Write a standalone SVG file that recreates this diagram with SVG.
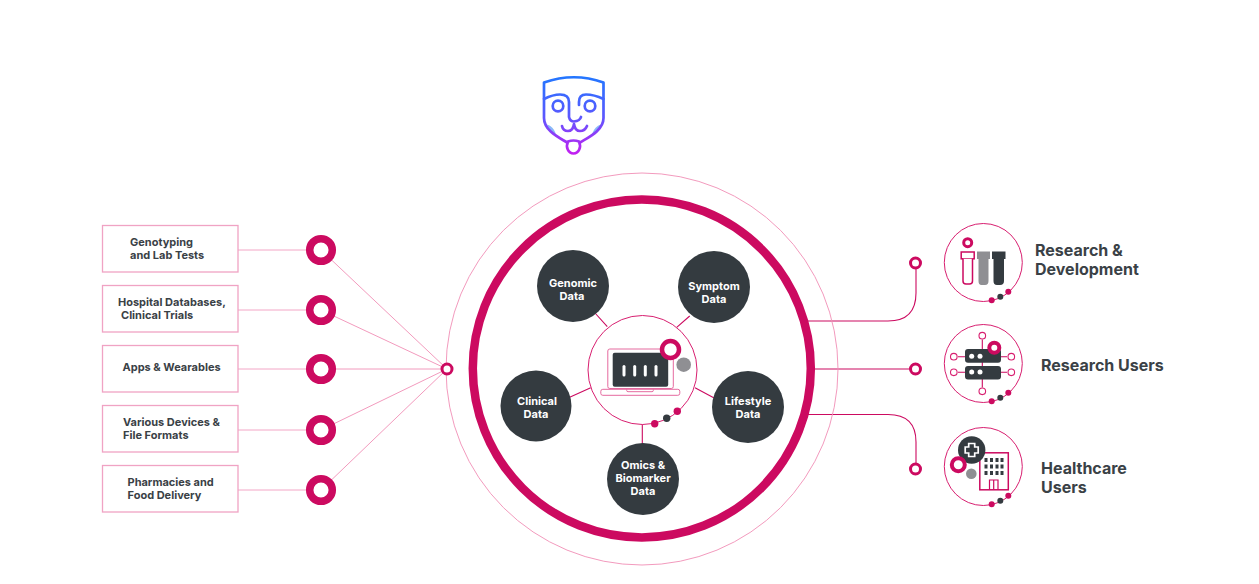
<svg xmlns="http://www.w3.org/2000/svg" width="1259" height="584" viewBox="0 0 1259 584">
<style>
text{font-family:Inter,"Liberation Sans",sans-serif;font-weight:700}
.lbl{font-size:11px;fill:#3a4146}
.nt{font-size:11px;fill:#fff;text-anchor:middle}
.rt{font-size:16px;fill:#3a4146}
.box{fill:#fff;stroke:#f0a3c4;stroke-width:1.3}
.thin{fill:none;stroke:#f08fb6;stroke-width:.9}
.lt{fill:none;stroke:#f3a6c6;stroke-width:1}
.mg{fill:none;stroke:#cc0a60;stroke-width:1.1}
.ring{fill:#fff;stroke:#cc0a60}
.dark{fill:#343b40}
.grey{fill:#8f8f93}
.pk{fill:#cc0a60}
.node{fill:#343b40}
.ic{fill:#fff;stroke:#d81f70;stroke-width:1}
.f{fill:none;stroke:url(#lg);stroke-width:2.7;stroke-linecap:round;stroke-linejoin:round}
</style>
<defs>
<linearGradient id="lg" gradientUnits="userSpaceOnUse" x1="574" y1="76" x2="574" y2="156"><stop offset="0" stop-color="#2277ff"/><stop offset=".5" stop-color="#5a58ff"/><stop offset="1" stop-color="#c81cf0"/></linearGradient>
</defs>
<g id="connectors">
<path class="lt" d="M238 250H321M238 310H321M238 369H321M238 430H321M238 490H321"/>
<path class="thin" d="M321 250L447 369M321 310L447 369M321 369H447M321 430L447 369M321 490L447 369"/>
<path class="mg" d="M808 321H888Q916 321 916 293V263M812 369H916M808 414.500H888Q916 414.500 916 442V469"/>
<path class="mg" d="M595 313L607.300 326.700M689.700 316L676.700 327.300M568 398L590.700 387.700M695 387.700L716 399M642.300 424V445"/>
</g>
<g id="face">
<path d="M547.300 124.500Q553 126 556 134Q549 131 547.300 124.500ZM600.700 124.500Q595 126 592 134Q599 131 600.700 124.500Z" fill="#8ab8f8"/>
<g class="f">
<path d="M544 82.500Q574 72 603.500 82.500V118C603.500 131 587 138 580 142.500M544 82.500V118C544 131 560 138 567 142.500"/>
<path d="M544 99Q553 94.500 560 94.500Q569 94.500 569 102V117Q570 121.500 574 121.500Q580 121 581 117"/>
<path d="M603.500 99Q594 94.500 586 94.500Q579 94.500 579 102V105"/>
<circle cx="558" cy="106" r="5.300"/><circle cx="590" cy="106" r="5.300"/>
<path d="M562 126Q563 131 568 131Q573 131 574 124Q575 131 580 131Q585 131 587 126"/>
<path d="M568 141.500C565.500 147 568 153.500 573.500 153.500C579 153.500 581.500 147 579 141.500Q573.500 139.500 568 141.500Z"/>
</g>
</g>
<g id="main-circle">
<circle cx="642" cy="369" r="196" class="thin"/>
<circle cx="641.800" cy="368.400" r="169" fill="none" stroke="#cc0a60" stroke-width="8.500"/>
</g>
<g id="hub-left"><circle cx="447" cy="369" r="5" class="ring" stroke-width="3"/></g>
<g id="box1"><rect class="box" x="102.500" y="225.500" width="135.500" height="46.500"/><text class="lbl" x="130" y="245.500">Genotyping</text><text class="lbl" x="130" y="258.500">and Lab Tests</text><circle cx="321" cy="250" r="11.300" class="ring" stroke-width="7.500"/></g>
<g id="box2"><rect class="box" x="102.500" y="285.500" width="135.500" height="46.500"/><text class="lbl" x="118" y="305.500">Hospital Databases,</text><text class="lbl" x="121" y="318.500">Clinical Trials</text><circle cx="321" cy="310" r="11.300" class="ring" stroke-width="7.500"/></g>
<g id="box3"><rect class="box" x="102.500" y="345.500" width="135.500" height="46.500"/><text class="lbl" x="122.500" y="370.500">Apps &amp; Wearables</text><circle cx="321" cy="369" r="11.300" class="ring" stroke-width="7.500"/></g>
<g id="box4"><rect class="box" x="102.500" y="405.500" width="135.500" height="46.500"/><text class="lbl" x="123" y="425.500">Various Devices &amp;</text><text class="lbl" x="123" y="438.500">File Formats</text><circle cx="321" cy="430" r="11.300" class="ring" stroke-width="7.500"/></g>
<g id="box5"><rect class="box" x="102.500" y="465.500" width="135.500" height="46.500"/><text class="lbl" x="127.500" y="485.500">Pharmacies and</text><text class="lbl" x="127.500" y="498.500">Food Delivery</text><circle cx="321" cy="490" r="11.300" class="ring" stroke-width="7.500"/></g>
<g id="genomic"><circle class="node" cx="573" cy="286" r="36"/><text class="nt" x="573" y="287">Genomic</text><text class="nt" x="572" y="300">Data</text></g>
<g id="symptom"><circle class="node" cx="714" cy="287" r="36"/><text class="nt" x="714" y="290">Symptom</text><text class="nt" x="714" y="303">Data</text></g>
<g id="clinical"><circle class="node" cx="536" cy="406" r="35.500"/><text class="nt" x="537" y="405">Clinical</text><text class="nt" x="536" y="418">Data</text></g>
<g id="lifestyle"><circle class="node" cx="748" cy="407" r="36"/><text class="nt" x="748" y="405">Lifestyle</text><text class="nt" x="748" y="418">Data</text></g>
<g id="omics"><circle class="node" cx="643" cy="479" r="36"/><text class="nt" x="643" y="469">Omics &amp;</text><text class="nt" x="643" y="482">Biomarker</text><text class="nt" x="643" y="495">Data</text></g>
<g id="hub">
<circle cx="642.500" cy="370" r="54.500" fill="#fff" stroke="#d81f70" stroke-width="1"/>
<rect x="607.800" y="349" width="65.500" height="39.500" rx="2" fill="none" stroke="#e56a9f" stroke-width="1"/>
<rect x="612.700" y="352.700" width="55.500" height="34" rx="2" class="dark"/>
<rect x="600.800" y="389.300" width="79" height="6" rx="2" fill="#fff" stroke="#e56a9f" stroke-width="1"/>
<path d="M626.700 389.300V390.500Q626.700 391.700 628 391.700H652Q653.300 391.700 653.300 390.500V389.300" fill="none" stroke="#e56a9f" stroke-width="1"/>
<g fill="#fff"><rect x="622.500" y="365" width="3" height="11.500" rx="1.500"/><rect x="633.200" y="365" width="3" height="11.500" rx="1.500"/><rect x="643.800" y="365" width="3" height="11.500" rx="1.500"/><rect x="654.500" y="365" width="3" height="11.500" rx="1.500"/></g>
<circle cx="670.500" cy="349.500" r="8.500" class="ring" stroke-width="4.500"/>
<circle cx="683.700" cy="364.700" r="7.300" class="grey"/>
<circle cx="677.300" cy="411.300" r="3.700" class="pk"/><circle cx="666.700" cy="418.300" r="3.700" class="dark"/><circle cx="654.700" cy="423.700" r="3.700" class="pk"/>
</g>
<g id="rd">
<circle cx="915.500" cy="263" r="5" class="ring" stroke-width="3"/>
<circle class="ic" cx="983.300" cy="262.500" r="39"/>
<circle cx="967.700" cy="242.700" r="4" class="ring" stroke-width="3"/>
<rect x="961.200" y="252" width="13" height="6.800" fill="#fff" stroke="#cc0a60" stroke-width="1.500"/>
<path d="M963 258.800V281Q963 284 966 284H969.500Q972.500 284 972.500 281V258.800" fill="#fff" stroke="#cc0a60" stroke-width="1.500"/>
<path class="grey" d="M977 251.500H990V259H988.500V281Q988.500 285 985 285H981.500Q978.500 285 978.500 281V259H977Z"/>
<path class="dark" d="M992 251.500H1005.500V259H1004V281Q1004 285 1000 285H997Q993.500 285 993.500 281V259H992Z"/>
<circle cx="1008.300" cy="291.700" r="3" class="pk"/><circle cx="1000.300" cy="296.700" r="3" class="dark"/><circle cx="991.700" cy="300.300" r="3" class="pk"/>
<text class="rt" x="1035" y="255.500">Research &amp;</text><text class="rt" x="1035" y="274.500">Development</text>
</g>
<g id="users">
<circle cx="915.500" cy="369" r="5" class="ring" stroke-width="3"/>
<circle class="ic" cx="983.300" cy="363.500" r="39"/>
<path class="mg" d="M982.300 339.500V387.500M958 356.700H1007M958 372.300H1007"/>
<g fill="#fff" stroke="#d81f70" stroke-width="1.100"><circle cx="982.300" cy="335.700" r="3.300"/><circle cx="982.300" cy="391.300" r="3.300"/><circle cx="953.800" cy="356.700" r="3.300"/><circle cx="953.800" cy="372.300" r="3.300"/><circle cx="1011.300" cy="356.700" r="3.300"/><circle cx="1011.300" cy="372.300" r="3.300"/></g>
<rect x="965" y="349" width="36" height="13.700" rx="3" class="dark"/><rect x="965" y="366" width="36" height="13.500" rx="3" class="dark"/>
<g fill="#fff"><circle cx="971.700" cy="356.300" r="2.500"/><circle cx="980" cy="356.300" r="2.500"/><circle cx="971.700" cy="372" r="2.500"/><circle cx="980" cy="372" r="2.500"/></g>
<circle cx="994.300" cy="347.700" r="5" class="ring" stroke-width="4"/>
<circle cx="1008.300" cy="392.700" r="3" class="pk"/><circle cx="1000.300" cy="397.700" r="3" class="dark"/><circle cx="991.700" cy="401.300" r="3" class="pk"/>
<text class="rt" x="1041" y="371">Research Users</text>
</g>
<g id="healthcare">
<circle cx="915.500" cy="469" r="5" class="ring" stroke-width="3"/>
<circle class="ic" cx="983.300" cy="466.500" r="39"/>
<rect x="979.800" y="452.800" width="28.500" height="37" fill="#fff" stroke="#cc0a60" stroke-width="1.500"/>
<g class="dark"><rect x="984.500" y="458" width="3" height="4"/><rect x="990" y="458" width="3" height="4"/><rect x="995.500" y="458" width="3" height="4"/><rect x="1000.500" y="458" width="3" height="4"/><rect x="984.500" y="464.500" width="3" height="4"/><rect x="990" y="464.500" width="3" height="4"/><rect x="995.500" y="464.500" width="3" height="4"/><rect x="1000.500" y="464.500" width="3" height="4"/><rect x="984.500" y="471" width="3" height="4"/><rect x="990" y="471" width="3" height="4"/><rect x="995.500" y="471" width="3" height="4"/><rect x="1000.500" y="471" width="3" height="4"/></g>
<path d="M989.500 489.500V480H998V489.500M993.700 480V489.500" fill="none" stroke="#cc0a60" stroke-width="1.200"/>
<circle cx="971.700" cy="450" r="13.700" class="dark"/>
<path d="M968.700 443.500H974.700V447H978.200V453H974.700V456.500H968.700V453H965.200V447H968.700Z" fill="none" stroke="#fff" stroke-width="1.700"/>
<circle cx="958.300" cy="464.700" r="6.500" class="ring" stroke-width="4"/>
<circle cx="971.300" cy="473.700" r="5.300" class="grey"/>
<circle cx="1008.300" cy="495.700" r="3" class="pk"/><circle cx="1000.300" cy="500.700" r="3" class="dark"/><circle cx="991.700" cy="504.300" r="3" class="pk"/>
<text class="rt" x="1041" y="474">Healthcare</text><text class="rt" x="1041" y="493">Users</text>
</g>
</svg>
